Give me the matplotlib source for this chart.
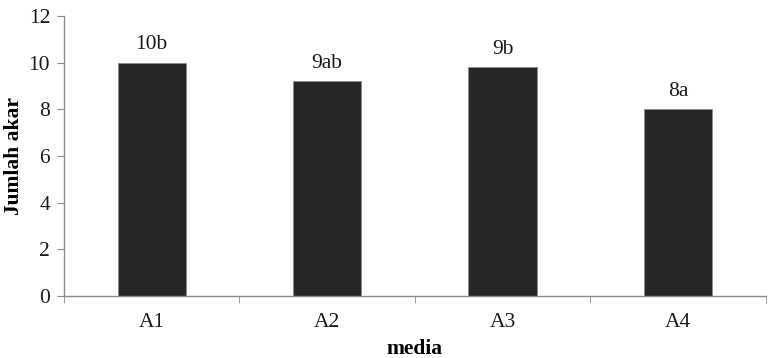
import matplotlib.pyplot as plt
from matplotlib.ticker import FixedLocator

plt.rcParams['font.family'] = ['Liberation Serif', 'DejaVu Serif']

# data
media = ["A1", "A2", "A3", "A4"]
jumlah_akar = [10.0, 9.2, 9.8, 8.0]
notasi = ["10b", "9ab", "9b", "8a"]

fig = plt.figure(figsize=(7.75, 3.58), dpi=100)
ax = fig.add_axes([0.0826, 0.173, 0.9054, 0.782])

x = list(range(len(media)))
bars = ax.bar(x, jumlah_akar, width=0.39, color="#262626", edgecolor="#8c8c8c", linewidth=0.6, zorder=2)

for b, lab in zip(bars, notasi):
    ax.annotate(lab, (b.get_x() + b.get_width() / 2, b.get_height()),
                xytext=(0, 6), textcoords="offset points",
                ha="center", va="bottom", fontsize=15.5, color="#1a1a1a")

ax.set_xlim(-0.5, len(media) - 0.5)
ax.set_ylim(0, 12)
ax.set_yticks(range(0, 13, 2))
ax.set_xticks(x)
ax.set_xticklabels(media)
ax.xaxis.set_minor_locator(FixedLocator([i - 0.5 for i in range(len(media) + 1)]))

for s in ["top", "right"]:
    ax.spines[s].set_visible(False)
for s in ["left", "bottom"]:
    ax.spines[s].set_color("#8c8c8c")
    ax.spines[s].set_linewidth(1.0)

ax.tick_params(axis="x", which="major", length=0, pad=12, labelsize=15.5, colors="#1a1a1a")
ax.tick_params(axis="x", which="minor", length=5, color="#8c8c8c", direction="out")
ax.tick_params(axis="y", length=5, color="#8c8c8c", labelsize=15.5, labelcolor="#1a1a1a", pad=5)

ax.set_xlabel("media", fontsize=15.5, fontweight="bold", labelpad=5)
ax.set_ylabel("Jumlah akar", fontsize=15.5, fontweight="bold", va="center")
ax.yaxis.set_label_coords(-0.071, 0.5)

fig.savefig("out.png", dpi=100)
